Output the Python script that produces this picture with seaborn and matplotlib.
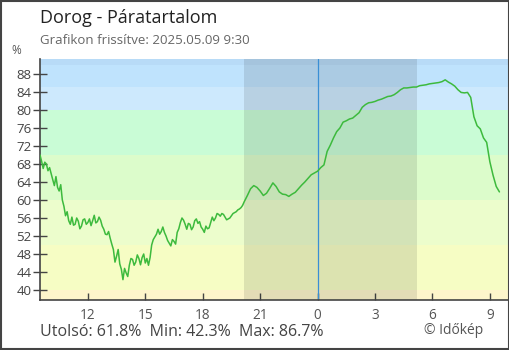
import numpy as np
import pandas as pd
import matplotlib
matplotlib.use("Agg")
import matplotlib.pyplot as plt
import seaborn as sns
from matplotlib.patches import Rectangle

# Relative humidity (%), 5-minute readings from 09:30 to 20:10
day_humidity = [
    70.0, 68.6, 67.0, 68.4, 68.0, 66.5, 67.2, 65.8, 64.5, 63.2,
    65.2, 62.8, 62.0, 63.4, 60.0, 58.6, 56.5, 57.4, 55.4, 54.6,
    56.2, 54.4, 54.6, 56.0, 55.3, 53.6, 54.2, 55.6, 55.8, 54.6,
    55.0, 55.8, 54.3, 55.4, 56.6, 54.9, 55.2, 56.2, 55.5, 54.2,
    53.5, 52.4, 52.3, 53.0, 51.5, 50.2, 49.0, 46.2, 47.5, 49.0,
    45.8, 44.6, 42.3, 44.8, 43.8, 43.0, 45.5, 47.0, 46.8, 45.5,
    46.2, 47.8, 47.0, 45.6, 47.2, 48.0, 46.0, 47.0, 45.5, 47.2,
    50.0, 51.2, 51.8, 52.4, 53.5, 52.4, 53.0, 54.0, 52.8, 52.0,
    51.0, 50.4, 49.8, 51.2, 50.8, 50.2, 52.8, 53.6, 55.0, 56.0,
    55.5, 54.6, 53.5, 54.8, 54.6, 53.4, 54.0, 55.4, 55.8, 54.8,
    55.2, 54.0, 53.5, 52.8, 54.2, 53.6, 53.8, 55.0, 56.2, 55.4,
    56.0, 57.0, 56.8, 56.4, 57.0, 56.8, 56.2, 55.6, 55.8, 56.0,
    56.5, 57.0, 57.2, 57.4, 57.8, 58.0, 58.3, 58.8, 59.6,
]
# Relative humidity (%), 10-minute readings from 20:20 to 09:30 next day
night_humidity = [
    61.0, 62.5, 63.2, 62.8, 62.0,
    61.0, 61.5, 62.6, 63.8, 63.0, 61.8, 61.3, 61.2, 60.8, 61.3,
    61.7, 62.5, 63.3, 64.0, 64.8, 65.6, 66.0, 66.4, 67.2, 67.8,
    70.8, 72.2, 73.8, 75.2, 76.0, 77.3, 77.6, 78.0, 78.2, 78.8,
    79.4, 80.6, 81.2, 81.6, 81.7, 81.9, 82.2, 82.4, 82.7, 83.0,
    83.1, 83.4, 83.9, 84.5, 84.9, 84.9, 85.0, 85.1, 85.1, 85.4,
    85.5, 85.6, 85.8, 85.9, 86.0, 86.1, 86.3, 86.7, 86.2, 85.8,
    85.3, 84.5, 83.9, 83.8, 83.9, 82.8, 78.5, 76.5, 75.8, 73.8,
    72.8, 68.5, 65.5, 63.0, 61.8,
]
day_start, day_step = 9.5, 5 / 60
night_start_reading, night_step = 9.5 + 65 / 6, 10 / 60
hours = ([day_start + i * day_step for i in range(len(day_humidity))]
         + [night_start_reading + i * night_step for i in range(len(night_humidity))])
humidity = day_humidity + night_humidity

tick_hours = [12, 15, 18, 21, 24, 27, 30, 33]
tick_labels = ["12", "15", "18", "21", "0", "3", "6", "9"]
y_ticks = [40, 44, 48, 52, 56, 60, 64, 68, 72, 76, 80, 84, 88]

# Humidity bands (lower, upper, colour)
band_edges = [0, 40, 50, 60, 70, 80, 85, 90, 100]
band_colors = ["#fdf5cb", "#f6fdc4", "#ecfdcc", "#dcfccb", "#c9fcd6",
               "#cde9fd", "#bfe3fd", "#b8dbf7"]

night_start, night_end = 20.15, 29.2
midnight = 24

title = "Dorog - Páratartalom"
subtitle = "Grafikon frissítve: 2025.05.09 9:30"
footer = "Utolsó: 61.8%  Min: 42.3%  Max: 86.7%"
credit = "© Időkép"

df = pd.DataFrame({"hour": hours, "humidity": humidity})

sns.set_style("white")
plt.rcParams["font.family"] = ["Open Sans", "DejaVu Sans"]

W, H = 510, 350
fig = plt.figure(figsize=(W / 100, H / 100), dpi=100)
ax = fig.add_axes([40 / W, (H - 300) / H, 469 / W, 241 / H])

xmin, xmax = 9.5, 34.0
ymin, ymax = 37.78, 91.33
ax.set_xlim(xmin, xmax)
ax.set_ylim(ymin, ymax)

for lo, hi, c in zip(band_edges[:-1], band_edges[1:], band_colors):
    ax.axhspan(lo, hi, color=c, lw=0, zorder=0)
ax.axvspan(night_start, night_end, color="black", alpha=0.1, lw=0, zorder=1)
ax.axvline(midnight, color="#3a8fd5", lw=0.9, zorder=2)

sns.lineplot(data=df, x="hour", y="humidity", ax=ax, color="#3dba3d",
             lw=1.1, zorder=3)

ax.set_xlabel("")
ax.set_ylabel("")
ax.set_xticks(tick_hours)
ax.set_xticklabels(tick_labels)
ax.set_yticks(y_ticks)
for s in ["top", "right"]:
    ax.spines[s].set_visible(False)
for s in ["left", "bottom"]:
    ax.spines[s].set_color("#444444")
    ax.spines[s].set_linewidth(1.2)
ax.tick_params(axis="y", direction="inout", length=10, width=1,
               color="#444444", labelsize=9.5, labelcolor="#444444", pad=1)
ax.tick_params(axis="x", direction="in", length=5, width=1,
               color="#444444", labelsize=9.8, labelcolor="#555555", pad=6)
ax.tick_params(axis="y", left=True)
ax.tick_params(axis="x", bottom=True)

fig.text(40 / W, 1 - 18 / H, title, fontsize=13, color="#222222",
         va="center", ha="left")
fig.text(40 / W, 1 - 40 / H, subtitle, fontsize=9.5, color="#666666",
         va="center", ha="left")
fig.text(16 / W, 1 - 50 / H, "%", fontsize=8.5, color="#555555",
         va="center", ha="center")
fig.text(40 / W, 1 - 332 / H, footer, fontsize=11.5, color="#444444",
         va="center", ha="left")
fig.text(454 / W, 1 - 331 / H, credit, fontsize=10, color="#555555",
         va="center", ha="center")

fig.patches.append(Rectangle((0.001, 0.002), 0.997, 0.996, transform=fig.transFigure,
                             fill=False, edgecolor="#444444", lw=1.5))

fig.savefig("out.png", dpi=100, facecolor="white")
